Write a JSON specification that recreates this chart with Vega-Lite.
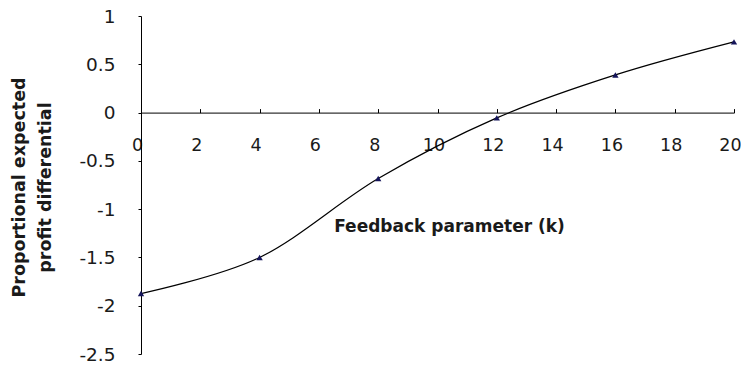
{
  "$schema": "https://vega.github.io/schema/vega-lite/v6.json",
  "autosize": "none",
  "padding": {"left": 141, "top": 16, "right": 7, "bottom": 12},
  "width": 593,
  "height": 338,
  "background": "white",
  "config": {
    "locale": {
      "number": {"decimal": ".", "thousands": ",", "grouping": [3], "currency": ["$", ""], "minus": "-"}
    },
    "view": {"stroke": null},
    "axis": {
      "grid": false,
      "domainColor": "#000000",
      "tickColor": "#000000",
      "labelColor": "#1a1a1a",
      "titleColor": "#1a1a1a",
      "labelFont": "DejaVu Sans",
      "titleFont": "DejaVu Sans",
      "domainWidth": 1,
      "tickWidth": 1
    }
  },
  "data": {
    "values": [
      {"k": 0, "d": -1.874},
      {"k": 4, "d": -1.5},
      {"k": 8, "d": -0.683},
      {"k": 12, "d": -0.055},
      {"k": 16, "d": 0.39},
      {"k": 20, "d": 0.732}
    ]
  },
  "encoding": {
    "x": {
      "field": "k",
      "type": "quantitative",
      "scale": {"domain": [0, 20], "nice": false, "zero": false},
      "axis": {
        "title": "Feedback parameter (k)",
        "values": [0, 2, 4, 6, 8, 10, 12, 14, 16, 18, 20],
        "offset": -241.4,
        "tickSize": -4,
        "labelPadding": 28,
        "labelFontSize": 17.5,
        "labelOffset": -4,
        "labelFlush": false,
        "labelBaseline": "top",
        "titleFontSize": 17,
        "titleFontWeight": "bold",
        "titleX": 308,
        "titleY": 119,
        "titleAlign": "center",
        "titleBaseline": "alphabetic",
        "titleAnchor": null
      }
    },
    "y": {
      "field": "d",
      "type": "quantitative",
      "scale": {"domain": [-2.5, 1], "nice": false, "zero": false},
      "axis": {
        "title": ["Proportional expected", "profit differential"],
        "values": [-2.5, -2, -1.5, -1, -0.5, 0, 0.5, 1],
        "format": "~g",
        "tickSize": 3,
        "labelPadding": 23,
        "labelFontSize": 18.5,
        "labelFlush": false,
        "titleFontSize": 17.5,
        "titleFontWeight": "bold",
        "titleLineHeight": 26,
        "titleX": -122,
        "titleY": 171,
        "titleAlign": "center",
        "titleBaseline": "middle",
        "titleAngle": -90
      }
    }
  },
  "layer": [
    {
      "mark": {"type": "line", "interpolate": "cardinal", "color": "#000000", "strokeWidth": 1.2}
    },
    {
      "mark": {"type": "point", "shape": "triangle-up", "filled": true, "size": 40, "color": "#14145a", "opacity": 1}
    }
  ]
}
